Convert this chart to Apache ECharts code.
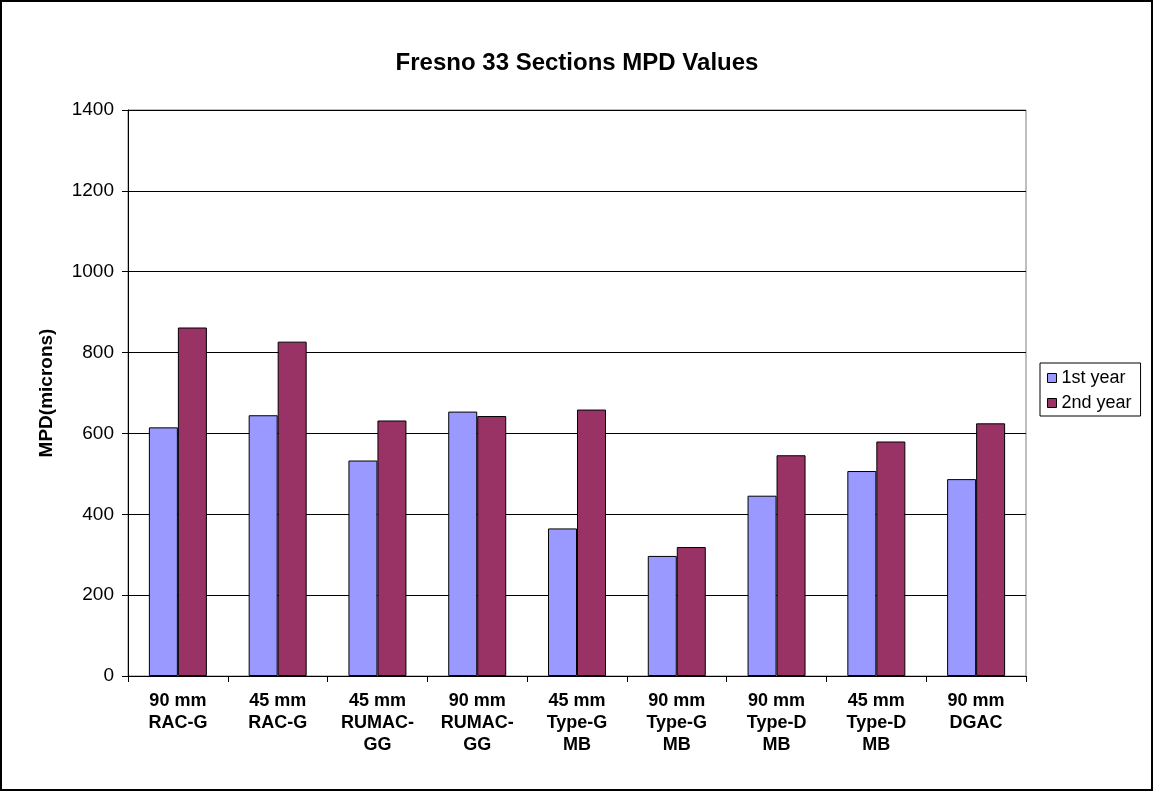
<!DOCTYPE html>
<html>
<head>
<meta charset="utf-8">
<title>Fresno 33 Sections MPD Values</title>
<script src="https://cdn.jsdelivr.net/npm/echarts@6/dist/echarts.min.js"></script>
<style>
  html, body { margin: 0; padding: 0; background: #fff; }
  #chart { width: 1154px; height: 792px; }
</style>
</head>
<body>
<div id="chart"></div>
<script>
// categories on the x axis (multi-line labels as in the original)
var sections = [
  '90 mm\nRAC-G',
  '45 mm\nRAC-G',
  '45 mm\nRUMAC-\nGG',
  '90 mm\nRUMAC-\nGG',
  '45 mm\nType-G\nMB',
  '90 mm\nType-G\nMB',
  '90 mm\nType-D\nMB',
  '45 mm\nType-D\nMB',
  '90 mm\nDGAC'
];
// MPD values (microns)
var firstYear = [615, 645, 533, 654, 365, 297, 446, 507, 487];
var secondYear = [862, 827, 632, 643, 659, 319, 546, 580, 625];
var yTicks = [0, 200, 400, 600, 800, 1000, 1200, 1400];

var chart = echarts.init(document.getElementById('chart'));

var option = {
  backgroundColor: '#ffffff',
  animation: false,
  textStyle: { fontFamily: 'Arial, "Liberation Sans", sans-serif' },
  title: {
    text: 'Fresno 33 Sections MPD Values',
    left: 'center',
    top: 46,
    textStyle: { fontSize: 24, fontWeight: 'bold', color: '#000' }
  },
  legend: {
    orient: 'vertical',
    left: 1040,
    top: 363,
    padding: [6, 9, 4, 7],
    icon: 'rect',
    itemWidth: 9,
    itemHeight: 9,
    itemGap: 7,
    borderColor: '#000',
    borderWidth: 1,
    borderRadius: 0,
    itemStyle: { borderColor: '#000', borderWidth: 1 },
    textStyle: { fontSize: 18, color: '#000' },
    data: ['1st year', '2nd year']
  },
  grid: {
    left: 128,
    right: 128,
    top: 110,
    bottom: 116,
    show: true,
    borderColor: '#808080',
    borderWidth: 1
  },
  xAxis: {
    type: 'category',
    data: sections,
    axisLine: { lineStyle: { color: '#000', width: 1 } },
    axisTick: { show: true, length: 6, lineStyle: { color: '#000' } },
    axisLabel: {
      interval: 0,
      margin: 14,
      fontSize: 18,
      fontWeight: 'bold',
      color: '#000',
      lineHeight: 22
    }
  },
  yAxis: {
    type: 'value',
    min: yTicks[0],
    max: yTicks[yTicks.length - 1],
    interval: 200,
    name: 'MPD(microns)',
    nameLocation: 'middle',
    nameGap: 72,
    nameTextStyle: { fontSize: 19, fontWeight: 'bold', color: '#000' },
    axisLine: { show: true, lineStyle: { color: '#000', width: 1 } },
    axisTick: { show: true, inside: false, length: 6, lineStyle: { color: '#000' } },
    axisLabel: {
      fontSize: 19,
      color: '#000',
      margin: 14,
      formatter: function (v) { return String(v); }
    },
    splitLine: { show: true, lineStyle: { color: '#000', width: 1 } }
  },
  series: [
    {
      name: '1st year',
      type: 'bar',
      data: firstYear,
      barWidth: 29,
      barGap: '0%',
      itemStyle: { color: '#9999FF', borderColor: '#000', borderWidth: 1 }
    },
    {
      name: '2nd year',
      type: 'bar',
      data: secondYear,
      barWidth: 29,
      barGap: '0%',
      itemStyle: { color: '#993366', borderColor: '#000', borderWidth: 1 }
    }
  ],
  graphic: [
    {
      type: 'rect',
      silent: true,
      shape: { x: 1, y: 1, width: 1151, height: 789 },
      style: { fill: 'none', stroke: '#000', lineWidth: 2 }
    }
  ]
};

chart.setOption(option);
</script>
</body>
</html>
